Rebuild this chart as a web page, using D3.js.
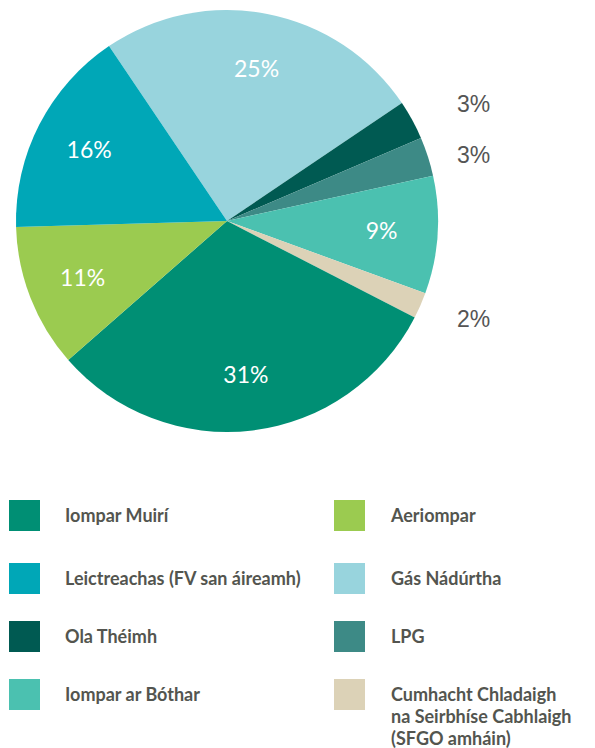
<!doctype html>
<html>
<head>
<meta charset="utf-8">
<script src="https://cdn.jsdelivr.net/npm/d3@7"></script>
<style>
  body { margin: 0; background: #fff; }
</style>
</head>
<body>
<script>
  // slices in drawing order, clockwise from the top-left edge of the 25% slice
  var categories = ["Gás Nádúrtha", "Ola Théimh", "LPG", "Iompar ar Bóthar",
                    "Cumhacht Chladaigh na Seirbhíse Cabhlaigh (SFGO amháin)",
                    "Iompar Muirí", "Aeriompar", "Leictreachas (FV san áireamh)"];
  var values = [25, 3, 3, 9, 2, 31, 11, 16];
  var labels = ["25%", "3%", "3%", "9%", "2%", "31%", "11%", "16%"];
  var colors = ["#98d4dd", "#005a52", "#3d8a86", "#4bc1b0", "#dcd2b7", "#008f74", "#9bcb50", "#00a7b7"];
  var outside = [false, true, true, false, true, false, false, false];

  // legend order (left column then right column)
  var legendLeft = [
    ["Iompar Muirí"],
    ["Leictreachas (FV san áireamh)"],
    ["Ola Théimh"],
    ["Iompar ar Bóthar"]
  ];
  var legendRight = [
    ["Aeriompar"],
    ["Gás Nádúrtha"],
    ["LPG"],
    ["Cumhacht Chladaigh", "na Seirbhíse Cabhlaigh", "(SFGO amháin)"]
  ];
  var legendKeys = ["Iompar Muirí", "Leictreachas (FV san áireamh)", "Ola Théimh", "Iompar ar Bóthar",
                    "Aeriompar", "Gás Nádúrtha", "LPG",
                    "Cumhacht Chladaigh na Seirbhíse Cabhlaigh (SFGO amháin)"];

  var width = 595, height = 748;
  var cx = 227, cy = 221, radius = 211;

  var color = d3.scaleOrdinal().domain(categories).range(colors);

  var svg = d3.select("body").append("svg")
      .attr("width", width)
      .attr("height", height);

  var pie = d3.pie()
      .sort(null)
      .value(function(d) { return d; })
      .startAngle(-34 * Math.PI / 180)
      .endAngle(326 * Math.PI / 180);

  var arcs = pie(values);

  var arc = d3.arc().innerRadius(0).outerRadius(radius);
  var labelArc = d3.arc().innerRadius(155).outerRadius(155);

  var g = svg.append("g").attr("transform", "translate(" + cx + "," + cy + ")");

  g.selectAll("path")
    .data(arcs)
    .enter()
      .append("path")
      .attr("d", arc)
      .attr("fill", function(d, i) { return color(categories[i]); });

  // inside labels
  g.selectAll("text.in")
    .data(arcs.filter(function(d, i) { return !outside[i]; }))
    .enter()
      .append("text")
      .attr("class", "in")
      .attr("transform", function(d) { return "translate(" + labelArc.centroid(d) + ")"; })
      .attr("dy", "0.35em")
      .attr("text-anchor", "middle")
      .attr("fill", "#ffffff")
      .style("font-family", "Lato, sans-serif")
      .style("font-size", "23px")
      .text(function(d) { return labels[d.index]; });

  // outside labels: placed on a wider circle, then spread so they don't crowd
  var outArcs = arcs.filter(function(d, i) { return outside[i]; })
    .map(function(d) {
      var a = (d.startAngle + d.endAngle) / 2;
      return { d: d, y: -Math.cos(a) * 245 };
    })
    .sort(function(a, b) { return a.y - b.y; });
  for (var k = 1; k < outArcs.length; k++) {
    if (outArcs[k].y - outArcs[k - 1].y < 51) outArcs[k].y = outArcs[k - 1].y + 51;
  }

  g.selectAll("text.out")
    .data(outArcs)
    .enter()
      .append("text")
      .attr("class", "out")
      .attr("x", radius + 19)
      .attr("y", function(o) { return o.y; })
      .attr("dy", "0.35em")
      .attr("fill", "#555555")
      .style("font-family", "'Liberation Sans', Arial, sans-serif")
      .style("font-size", "23px")
      .text(function(o) { return labels[o.d.index]; });

  // legend
  var rowY = [500, 563, 621, 679];
  var columns = [
    { items: legendLeft, x: 9, textX: 65, offset: 0 },
    { items: legendRight, x: 334, textX: 391, offset: 4 }
  ];

  columns.forEach(function(col) {
    var lg = svg.append("g");
    var rows = lg.selectAll("g")
      .data(col.items)
      .enter()
        .append("g")
        .attr("transform", function(d, i) { return "translate(0," + rowY[i] + ")"; });

    rows.append("rect")
      .attr("x", col.x)
      .attr("width", 31)
      .attr("height", 31)
      .attr("fill", function(d, i) { return color(legendKeys[col.offset + i]); });

    rows.append("text")
      .attr("x", col.textX)
      .attr("y", 22)
      .attr("fill", "#53554f")
      .style("font-family", "Lato, sans-serif")
      .style("font-weight", "bold")
      .style("font-size", "18px")
      .selectAll("tspan")
      .data(function(d) { return d; })
      .enter()
        .append("tspan")
        .attr("x", col.textX)
        .attr("dy", function(d, i) { return i === 0 ? 0 : 22; })
        .text(function(d) { return d; });
  });
</script>
</body>
</html>
